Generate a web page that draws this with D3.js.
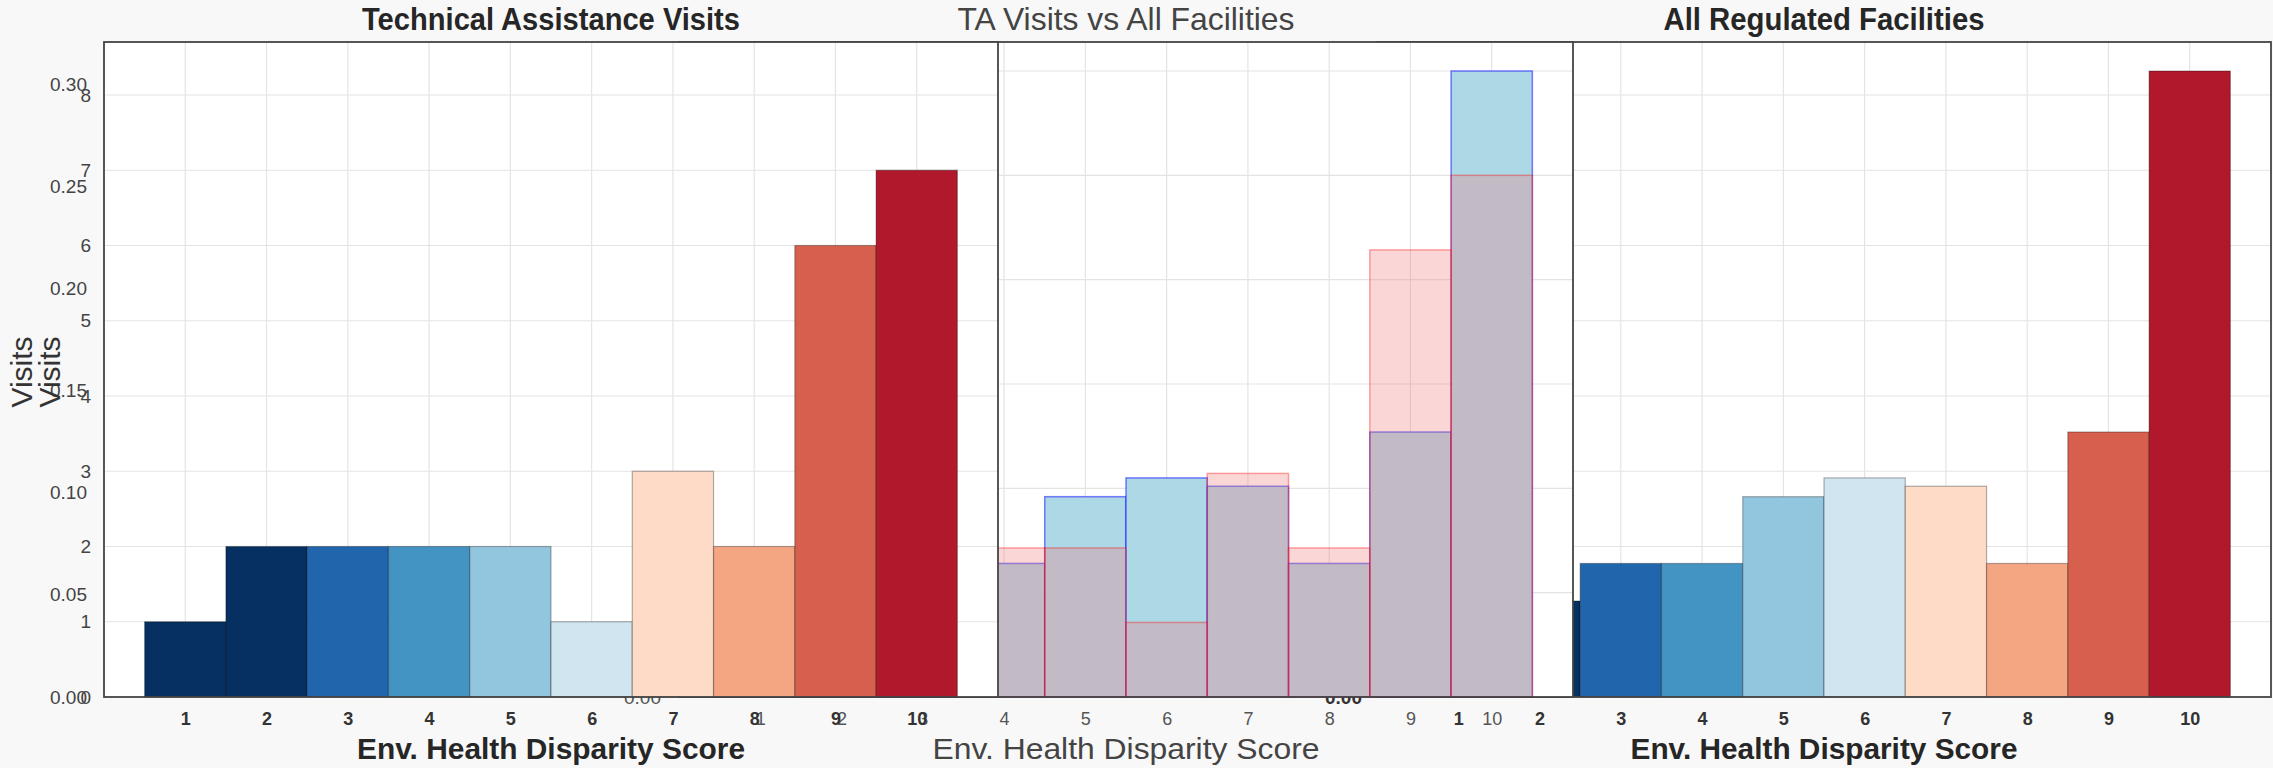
<!DOCTYPE html>
<html lang="en">
<head>
<meta charset="utf-8">
<title>TA Visits vs All Facilities</title>
<style>
    body, html {
        margin: 0;
        padding: 0;
        background: #f8f8f8;
    }
    svg {
        display: block;
    }
    text {
        font-family: "Liberation Sans", Arial, sans-serif;
    }
    .grid line {
        stroke: #e4e4e4;
        stroke-width: 1.2px;
    }
    .spine {
        fill: none;
        stroke: #444;
        stroke-width: 1.8px;
    }
</style>
<script src="https://d3js.org/d3.v7.min.js"></script>
</head>
<body>
<svg id="chart" width="2273" height="768"></svg>
<script>
    // env. health disparity score bins
    var scores = [1, 2, 3, 4, 5, 6, 7, 8, 9, 10];
    // technical assistance visits per score
    var taVisits = [1, 2, 2, 2, 2, 1, 3, 2, 6, 7];
    // share of all regulated facilities per score
    var facilityShare = [0.033, 0.046, 0.064, 0.064, 0.096, 0.105, 0.101, 0.064, 0.127, 0.300];
    var countTicks = [0, 1, 2, 3, 4, 5, 6, 7, 8];
    var shareTicks = [0, 0.05, 0.10, 0.15, 0.20, 0.25, 0.30];

    var scoreColors = ["#053061", "#053061", "#2166ac", "#4393c3", "#92c5de",
                       "#d1e5f0", "#fddbc7", "#f4a582", "#d6604d", "#b2182b"];

    var plotTop = 42,
        plotBottom = 697,
        panelW = 894;

    var svg = d3.select("#chart");

    var yCount = d3.scaleLinear().domain([0, 8]).range([plotBottom, 95]);
    var yShare = d3.scaleLinear().domain([0, 0.30]).range([plotBottom, 71]);
    var yShareLabel = d3.scaleLinear().domain([0, 0.30]).range([plotBottom, 84]);

    var taTotal = d3.sum(taVisits);
    var taShare = taVisits.map(function(v) { return v / taTotal; });

    function makePanel(left) {
        var p = {
            left: left,
            x: d3.scaleLinear().domain([0, 11]).range([left, left + panelW]),
            g: svg.append("g")
        };
        p.g.append("rect")
            .attr("x", left).attr("y", plotTop)
            .attr("width", panelW).attr("height", plotBottom - plotTop)
            .attr("fill", "#fff");
        return p;
    }

    function drawGrid(p, yScale, yVals) {
        var grid = p.g.append("g").attr("class", "grid");
        grid.selectAll("line.v").data(scores).enter().append("line")
            .attr("class", "v")
            .attr("x1", function(d) { return p.x(d); })
            .attr("x2", function(d) { return p.x(d); })
            .attr("y1", plotTop).attr("y2", plotBottom);
        grid.selectAll("line.h").data(yVals).enter().append("line")
            .attr("class", "h")
            .attr("x1", p.left).attr("x2", p.left + panelW)
            .attr("y1", function(d) { return yScale(d); })
            .attr("y2", function(d) { return yScale(d); });
    }

    function drawBars(p, values, yScale, style) {
        p.g.append("g").selectAll("rect")
            .data(values).enter().append("rect")
            .attr("x", function(d, i) { return p.x(scores[i] - 0.5); })
            .attr("width", function(d, i) { return p.x(scores[i] + 0.5) - p.x(scores[i] - 0.5); })
            .attr("y", function(d) { return yScale(d); })
            .attr("height", function(d) { return plotBottom - yScale(d); })
            .attr("fill", function(d, i) { return style.fill || scoreColors[i]; })
            .attr("fill-opacity", style.fillOpacity || 1)
            .attr("stroke", style.stroke)
            .attr("stroke-opacity", style.strokeOpacity)
            .attr("stroke-width", style.strokeWidth);
    }

    function drawAxes(p, yScale, yVals, yFormat, yPad, xWeight, yWeight, xColor, yColor) {
        var xa = p.g.append("g")
            .attr("transform", "translate(0," + plotBottom + ")")
            .call(d3.axisBottom(p.x).tickValues(scores).tickSize(0).tickPadding(15));
        xa.select(".domain").remove();
        xa.attr("font-size", 18).attr("font-family", null).attr("font-weight", xWeight);
        xa.selectAll("text").attr("fill", xColor);

        var ya = p.g.append("g")
            .attr("transform", "translate(" + p.left + ",0)")
            .call(d3.axisLeft(yScale).tickValues(yVals).tickFormat(yFormat).tickSize(0).tickPadding(yPad));
        ya.select(".domain").remove();
        ya.attr("font-size", 19).attr("font-family", null).attr("font-weight", yWeight);
        ya.selectAll("text").attr("fill", yColor);
    }

    function drawFrame(p) {
        p.g.append("rect")
            .attr("class", "spine")
            .attr("x", p.left).attr("y", plotTop)
            .attr("width", panelW).attr("height", plotBottom - plotTop);
    }

    function drawText(x, y, str, size, weight, color, len) {
        svg.append("text")
            .attr("x", x).attr("y", y)
            .attr("text-anchor", "middle")
            .attr("font-size", size)
            .attr("font-weight", weight)
            .attr("fill", color)
            .attr("textLength", len)
            .attr("lengthAdjust", "spacingAndGlyphs")
            .text(str);
    }

    // panels overlap: draw the right one first so the left ones cover it
    var p3 = makePanel(1377);
    drawGrid(p3, yCount, countTicks.slice(1));
    drawBars(p3, facilityShare, yShare, {stroke: "#000", strokeOpacity: 0.3, strokeWidth: 1.2});
    drawAxes(p3, yShare, shareTicks, d3.format(".2f"), 15, "bold", "bold", "#333", "#333");
    drawFrame(p3);

    var p2 = makePanel(679);
    drawGrid(p2, yShare, shareTicks.slice(1));
    drawBars(p2, facilityShare, yShare, {fill: "lightblue", stroke: "blue", strokeOpacity: 0.5, strokeWidth: 1.5});
    drawBars(p2, taShare, yShare, {fill: "lightcoral", fillOpacity: 0.32, stroke: "red", strokeOpacity: 0.35, strokeWidth: 1.5});
    drawAxes(p2, yShare, shareTicks, d3.format(".2f"), 18, "normal", "normal", "#555", "#555");
    drawFrame(p2);

    var p1 = makePanel(104);
    drawGrid(p1, yCount, countTicks.slice(1));
    drawBars(p1, taVisits, yCount, {stroke: "#000", strokeOpacity: 0.3, strokeWidth: 1.2});
    drawAxes(p1, yCount, countTicks, d3.format("d"), 13, "bold", "normal", "#333", "#444");
    drawFrame(p1);

    // share labels stacked on the count labels at the far left
    var shareAxis = svg.append("g")
        .attr("transform", "translate(104,0)")
        .call(d3.axisLeft(yShareLabel).tickValues(shareTicks).tickFormat(d3.format(".2f")).tickSize(0).tickPadding(17));
    shareAxis.select(".domain").remove();
    shareAxis.attr("font-size", 19).attr("font-family", null);
    shareAxis.selectAll("text").attr("fill", "#444");

    // y labels
    [32, 60].forEach(function(xPos) {
        svg.append("text")
            .attr("transform", "translate(" + xPos + ",372) rotate(-90)")
            .attr("text-anchor", "middle")
            .attr("font-size", 30)
            .attr("fill", "#333")
            .text("Visits");
    });

    // titles and x labels
    drawText(551, 30, "Technical Assistance Visits", 32, "bold", "#262626", 378);
    drawText(1126, 30, "TA Visits vs All Facilities", 32, "normal", "#444", 337);
    drawText(1824, 30, "All Regulated Facilities", 32, "bold", "#262626", 321);

    drawText(551, 759, "Env. Health Disparity Score", 30, "bold", "#262626", 388);
    drawText(1126, 759, "Env. Health Disparity Score", 30, "normal", "#444", 387);
    drawText(1824, 759, "Env. Health Disparity Score", 30, "bold", "#262626", 387);
</script>
</body>
</html>
